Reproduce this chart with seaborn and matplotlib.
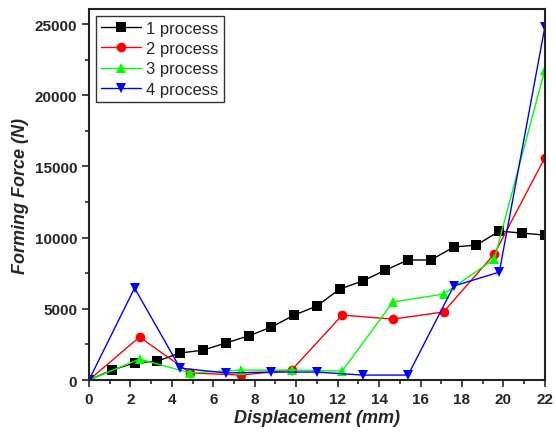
import numpy as np
import pandas as pd
import seaborn as sns
import matplotlib.pyplot as plt
from matplotlib.ticker import MultipleLocator

# forming force vs displacement
x1 = [0, 1.1, 2.2, 3.3, 4.4, 5.5, 6.6, 7.7, 8.8, 9.9, 11.0, 12.1, 13.2, 14.3, 15.4, 16.5, 17.6, 18.7, 19.8, 20.9, 22.0]
y1 = [0, 700, 1200, 1330, 1900, 2100, 2600, 3100, 3720, 4560, 5200, 6390, 6950, 7720, 8430, 8430, 9340, 9480, 10460, 10320, 10180]

x2 = [0, 2.44, 4.89, 7.33, 9.78, 12.22, 14.67, 17.11, 19.56, 22.0]
y2 = [0, 3020, 500, 350, 700, 4560, 4280, 4780, 8850, 15620]

x3 = [0, 2.44, 4.89, 7.33, 9.78, 12.22, 14.67, 17.11, 19.56, 22.0]
y3 = [0, 1470, 500, 700, 700, 630, 5480, 6040, 8500, 21800]

x4 = [0, 2.2, 4.4, 6.6, 8.8, 11.0, 13.2, 15.4, 17.6, 19.8, 22.0]
y4 = [0, 6460, 840, 500, 560, 560, 350, 350, 6600, 7580, 24800]

labels = ["1 process", "2 process", "3 process", "4 process"]
colors = ["black", "red", "#00ff00", "blue"]
markers = ["s", "o", "^", "v"]

frames = []
for lab, xs, ys in zip(labels, [x1, x2, x3, x4], [y1, y2, y3, y4]):
    frames.append(pd.DataFrame({"x": xs, "y": ys, "series": lab}))
df = pd.concat(frames, ignore_index=True)

sns.set_style("ticks")
plt.rcParams['font.family'] = ['Liberation Sans', 'DejaVu Sans']

fig = plt.figure(figsize=(5.56, 4.39), dpi=100)
ax = fig.add_axes([0.160, 0.132, 0.820, 0.845])

sns.lineplot(data=df, x="x", y="y", hue="series", style="series",
             palette=dict(zip(labels, colors)), markers=dict(zip(labels, markers)),
             dashes=False, linewidth=1, markersize=7, markeredgewidth=0,
             ax=ax, sort=False)

ax.set_xlim(0, 22)
ax.set_ylim(0, 26050)
ax.xaxis.set_major_locator(MultipleLocator(2))
ax.xaxis.set_minor_locator(MultipleLocator(1))
ax.yaxis.set_major_locator(MultipleLocator(5000))
ax.yaxis.set_minor_locator(MultipleLocator(2500))
ax.tick_params(which="major", direction="out", length=5, width=1.2, labelsize=11)
ax.tick_params(which="minor", direction="out", length=3, width=1.2)
for t in ax.get_xticklabels() + ax.get_yticklabels():
    t.set_fontweight("bold")
for s in ax.spines.values():
    s.set_linewidth(1.5)
    s.set_color("#222222")

ax.set_xlabel("Displacement (mm)", fontsize=13, fontweight="bold", style="italic", labelpad=2)
ax.set_ylabel("Forming Force (N)", fontsize=13, fontweight="bold", style="italic", labelpad=4)

leg = ax.legend(loc="upper left", fontsize=12, frameon=True, fancybox=False,
                edgecolor="black", handlelength=2.4, borderpad=0.3,
                labelspacing=0.32, handletextpad=0.35, borderaxespad=0.4,
                markerscale=1.0)
leg.get_frame().set_linewidth(1)

fig.savefig("out.png", dpi=100)
